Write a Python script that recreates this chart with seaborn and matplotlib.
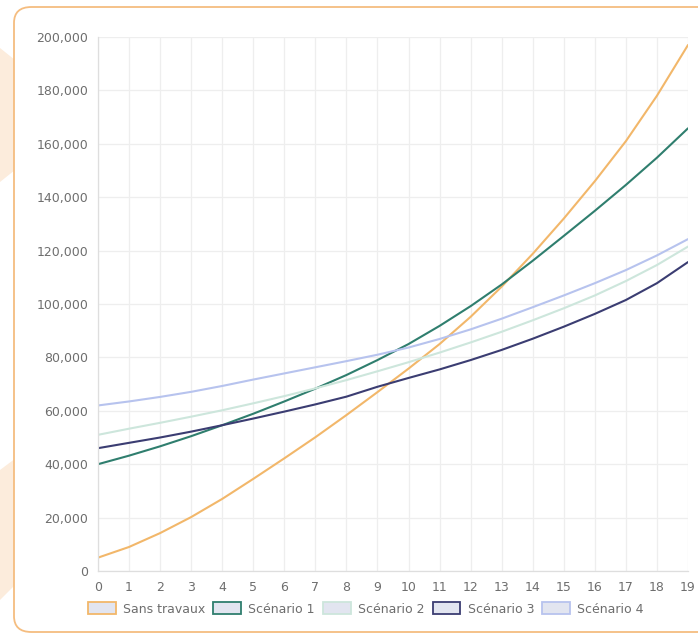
import numpy as np
import pandas as pd
import matplotlib
matplotlib.use("Agg")
import matplotlib.pyplot as plt
from matplotlib.patches import FancyBboxPatch, Polygon, Patch
import seaborn as sns

# Years on the horizontal axis
years = list(range(20))

# Cumulative cost per scenario
sans_travaux = [5000, 9000, 14200, 20200, 27000, 34500, 42200, 50100, 58400, 67000,
                75800, 85000, 95200, 106500, 118800, 132000, 146000, 161000, 178000, 197000]
scenario_1 = [40000, 43200, 46700, 50500, 54600, 58900, 63500, 68300, 73400, 79000,
              85000, 91800, 99200, 107300, 116200, 125500, 134900, 144600, 154800, 165800]
scenario_2 = [51000, 53300, 55500, 57800, 60200, 62800, 65500, 68400, 71500, 74800,
              78200, 81800, 85600, 89600, 93900, 98400, 103200, 108600, 114600, 121500]
scenario_3 = [46000, 48000, 50000, 52200, 54600, 57100, 59700, 62400, 65300, 69000,
              72300, 75500, 79000, 82800, 87000, 91500, 96300, 101500, 107800, 115700]
scenario_4 = [62000, 63500, 65200, 67100, 69300, 71700, 74000, 76300, 78600, 81000,
              83700, 86900, 90500, 94500, 98800, 103200, 107800, 112700, 118200, 124300]

series_names = ["Sans travaux", "Scénario 1", "Scénario 2", "Scénario 3", "Scénario 4"]
series_values = [sans_travaux, scenario_1, scenario_2, scenario_3, scenario_4]
series_colors = ["#f2b76a", "#2f7e6e", "#cde6dc", "#3b3d72", "#b7c3ee"]

y_ticks = list(range(0, 200001, 20000))

df = pd.DataFrame(
    [(y, name, v) for name, vals in zip(series_names, series_values) for y, v in zip(years, vals)],
    columns=["annee", "serie", "cout"],
)

sns.set_theme(style="white")
plt.rcParams["font.family"] = ["DejaVu Sans"]

fig = plt.figure(figsize=(6.98, 6.36), dpi=100)
fig.patch.set_facecolor("white")

W, H = 698.0, 636.0

def fx(px):
    return px / W

def fy(py):
    return 1 - py / H

# Decorative peach shapes behind the card
peach = "#fcecdc"
for pts in [
    [(0, 48), (40, 80), (40, 150), (0, 182)],
    [(0, 600), (40, 560), (40, 440), (0, 470)],
]:
    fig.patches.append(Polygon([(fx(x), fy(y)) for x, y in pts], closed=True,
                               transform=fig.transFigure, facecolor=peach,
                               edgecolor="none", zorder=0))

# White card with orange rounded border
card = FancyBboxPatch((fx(14), fy(632)), fx(760) - fx(14), fy(7) - fy(632),
                      boxstyle="round,pad=0,rounding_size=0.025",
                      transform=fig.transFigure, facecolor="white",
                      edgecolor="#f5bd80", linewidth=1.3, zorder=1)
fig.patches.append(card)

ax = fig.add_axes([fx(98), fy(571), fx(688) - fx(98), fy(37) - fy(571)])
ax.set_facecolor("none")
ax.set_zorder(2)

sns.lineplot(data=df, x="annee", y="cout", hue="serie", hue_order=series_names,
             palette=series_colors, linewidth=1.5, legend=False, ax=ax)

ax.set_xlim(0, 19)
ax.set_ylim(0, 200000)
ax.set_xticks(years)
ax.set_xticklabels([str(y) for y in years])
ax.set_yticks(y_ticks)
ax.set_yticklabels([f"{v:,}" for v in y_ticks])
ax.set_xlabel("")
ax.set_ylabel("")

ax.grid(True, color="#eeeeee", linewidth=0.9)
ax.set_axisbelow(True)
for side in ["top", "right"]:
    ax.spines[side].set_visible(False)
for side in ["left", "bottom"]:
    ax.spines[side].set_color("#dedede")
    ax.spines[side].set_linewidth(0.9)

ax.tick_params(axis="both", which="both", length=4, color="#e6e6e6",
               labelsize=9, labelcolor="#6e6e6e", pad=3)

handles = [Patch(facecolor="#e2e5f0", edgecolor=c, linewidth=1.3) for c in series_colors]
fig.legend(handles, series_names, loc="center", bbox_to_anchor=(fx(366), fy(609)),
           ncol=5, frameon=False, fontsize=9, labelcolor="#6e6e6e",
           handlelength=2.2, handleheight=1.1, handletextpad=0.6, columnspacing=0.65)

fig.savefig("out.png", dpi=100, facecolor="white")
